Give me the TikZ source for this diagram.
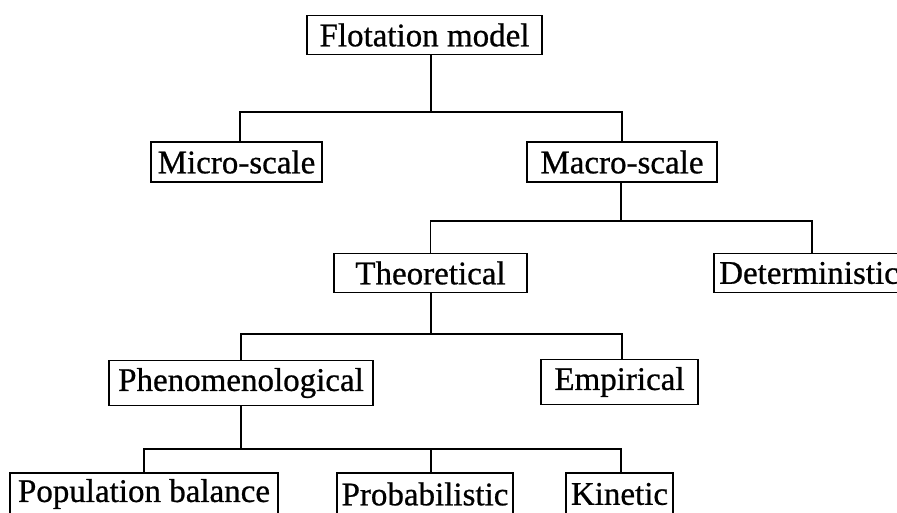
\documentclass[tikz,border=0pt]{standalone}
\usepackage{fontspec}
\setmainfont{Liberation Serif}[FakeBold=0.7]
\usepackage{tikz}

\begin{document}
\begin{tikzpicture}[x=1pt, y=-1pt,
  modelbox/.style={rectangle, draw, line width=1.5pt, inner sep=0pt, minimum height=39pt, font=\fontsize{33}{36}\selectfont},
  link/.style={line width=1.5pt}
  ]
  \useasboundingbox (0,0) rectangle (897,512);
  \clip (0,0) rectangle (897,512);
  % boxes, row by row
  \node[modelbox, minimum width=235pt] (Flot) at (424.5,35) {Flotation model};
  \node[modelbox, minimum width=171pt, minimum height=40pt] (Micro) at (236.5,162) {Micro-scale};
  \node[modelbox, minimum width=190pt, minimum height=40pt] (Macro) at (622,162) {Macro-scale};
  \node[modelbox, minimum width=193pt] (Theo) at (430.5,273) {Theoretical};
  \node[modelbox, minimum width=190pt] (Det) at (809,273) {Deterministic};
  \node[modelbox, minimum width=264pt, minimum height=45pt] (Phen) at (241,383) {Phenomenological};
  \node[modelbox, minimum width=157pt, minimum height=45pt] (Emp) at (619.5,382) {Empirical};
  \node[modelbox, minimum width=268pt, minimum height=42pt] (Pop) at (144,494) {Population balance};
  \node[modelbox, minimum width=176pt, minimum height=42pt] (Prob) at (425,494) {Probabilistic};
  \node[modelbox, minimum width=107pt, minimum height=42pt] (Kin) at (619.5,494) {Kinetic};
  % tree connectors
  \coordinate (bus1) at (431,112);
  \coordinate (bus2) at (621,221);
  \coordinate (bus3) at (431,334);
  \coordinate (bus4) at (241,449);
  \draw[link] (Flot.south -| bus1) -- (bus1);
  \draw[link] (bus1) -| ([xshift=3.5pt]Micro.north);
  \draw[link] (bus1) -| (Macro.north);
  \draw[link] (Macro.south -| bus2) -- (bus2);
  \draw[link] (bus2) -| (Theo.north);
  \draw[link] (bus2) -| ([xshift=3pt]Det.north);
  \draw[link] (Theo.south -| bus3) -- (bus3);
  \draw[link] (bus3) -| (Phen.north);
  \draw[link] (bus3) -| ([xshift=2.5pt]Emp.north);
  \draw[link] (Phen.south) -- (bus4);
  \draw[link] (bus4) -| (Pop.north);
  \draw[link] (bus4) -| ([xshift=6pt]Prob.north);
  \draw[link] (bus4) -| ([xshift=1.5pt]Kin.north);
\end{tikzpicture}
\end{document}
